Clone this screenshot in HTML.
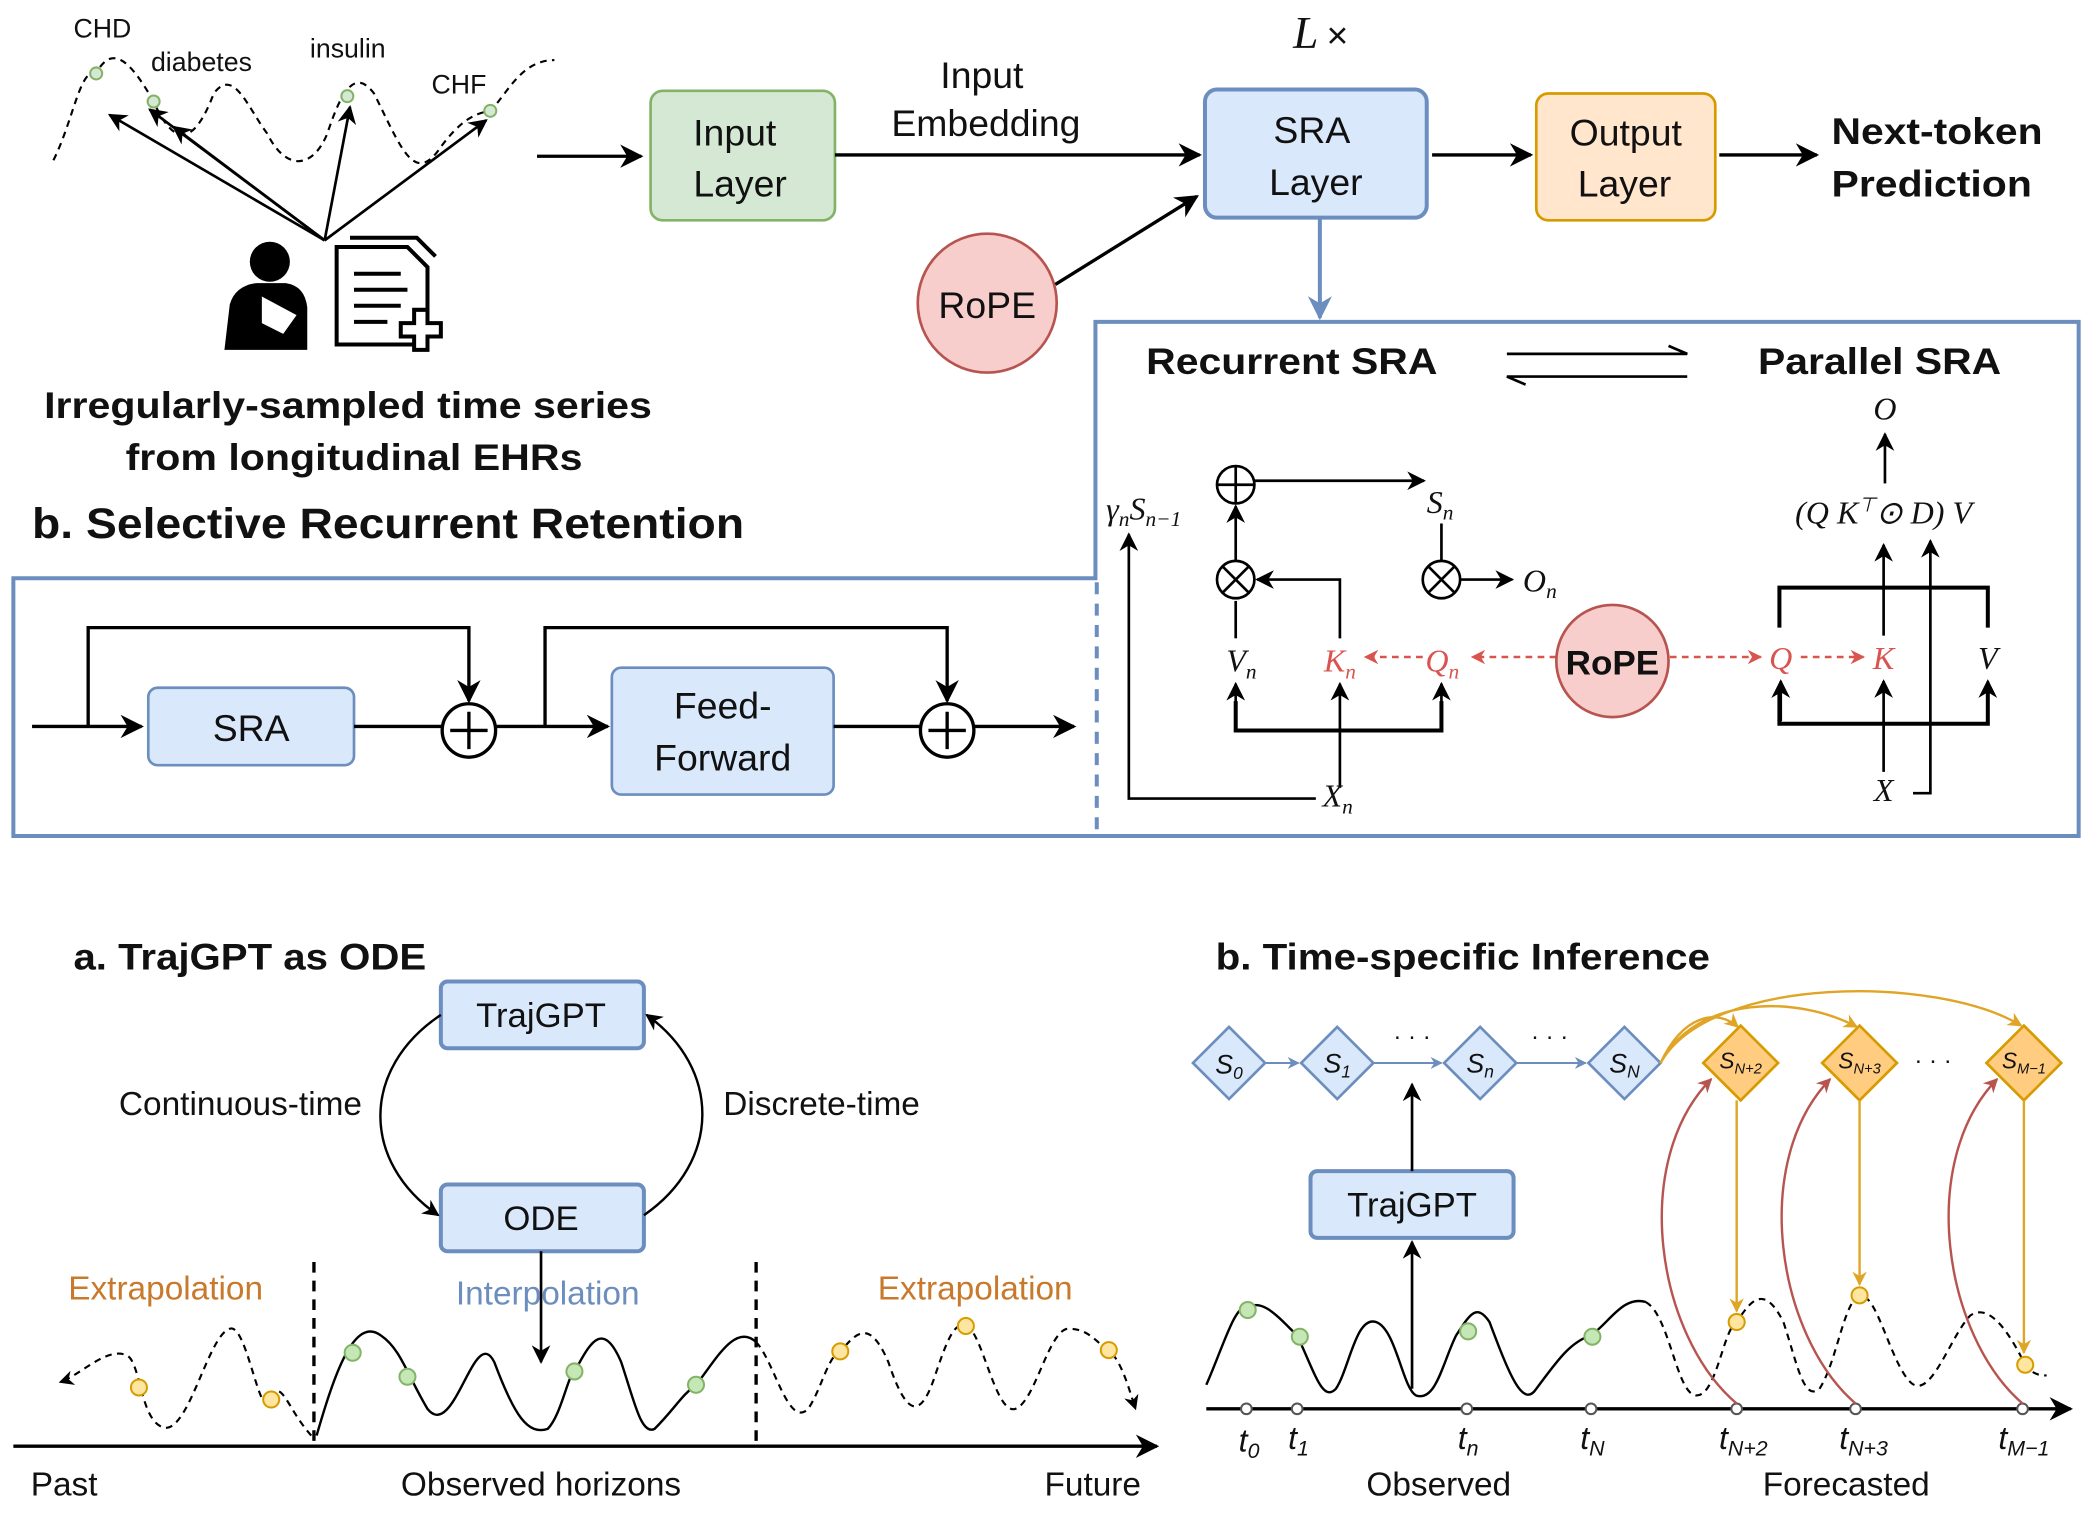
<!DOCTYPE html>
<html><head><meta charset="utf-8"><style>
html,body{margin:0;padding:0;background:#fff;}
svg{display:block;}
text{font-family:"Liberation Sans",sans-serif;fill:#111;}
.b{font-weight:bold;}
.m{font-family:"Liberation Serif",serif;font-style:italic;}
</style></head><body>
<svg width="2084" height="1513" viewBox="0 0 1560 1133" preserveAspectRatio="none" xmlns="http://www.w3.org/2000/svg">
<defs>
<marker id="a" viewBox="0 0 10 10" refX="9" refY="5" markerWidth="7" markerHeight="7" orient="auto-start-reverse"><path d="M0,0L10,5L0,10L3,5z" fill="#000"/></marker>
<marker id="ab" viewBox="0 0 10 10" refX="9" refY="5" markerWidth="6" markerHeight="6" orient="auto"><path d="M0,0L10,5L0,10L3,5z" fill="#6c8ebf"/></marker>
<marker id="ar" viewBox="0 0 10 10" refX="9" refY="5" markerWidth="6" markerHeight="6" orient="auto"><path d="M0,0L10,5L0,10L3,5z" fill="#d9534f"/></marker>
<marker id="ao" viewBox="0 0 10 10" refX="9" refY="5" markerWidth="6" markerHeight="6" orient="auto"><path d="M0,0L10,5L0,10L3,5z" fill="#e0a526"/></marker>
<marker id="am" viewBox="0 0 10 10" refX="9" refY="5" markerWidth="6" markerHeight="6" orient="auto"><path d="M0,0L10,5L0,10L3,5z" fill="#b85450"/></marker>
</defs>

<!-- TOP LEFT time series -->
<path d="M40,120 C55,90 60,50 72,55 C85,30 100,50 115,76 C130,110 145,110 160,70 C175,50 185,80 200,100 C215,130 235,125 245,100 C255,70 265,50 280,70 C300,110 310,140 330,110 C345,90 355,85 367,83 C380,70 390,45 415,45" fill="none" stroke="#000" stroke-width="1.6" stroke-dasharray="5,4"/>
<g stroke="#000" stroke-width="2" fill="none" marker-end="url(#a)">
<line x1="243" y1="180" x2="82" y2="86"/>
<line x1="243" y1="180" x2="112" y2="82"/>
<line x1="243" y1="180" x2="262" y2="80"/>
<line x1="243" y1="180" x2="364" y2="90"/>
<line x1="243" y1="180" x2="130" y2="95"/>
</g>
<g fill="#d5e8d4" stroke="#82b366" stroke-width="1.5">
<circle cx="72" cy="55" r="4.5"/><circle cx="115" cy="76" r="4.5"/><circle cx="260" cy="72" r="4.5"/><circle cx="367" cy="83" r="4.5"/>
</g>
<text x="55" y="28" font-size="20">CHD</text>
<text x="113" y="53" font-size="20">diabetes</text>
<text x="232" y="43" font-size="20">insulin</text>
<text x="323" y="70" font-size="20">CHF</text>
<!-- person -->
<circle cx="202" cy="196" r="15" fill="#000"/>
<path d="M168,262 L172,228 Q176,214 192,212 L214,212 Q228,214 230,230 L230,262 Z" fill="#000"/>
<path d="M196,222 L222,236 L212,250 L196,242 Z" fill="#fff"/>
<!-- document -->
<path d="M252,185 L305,185 L320,200 L320,258 L252,258 Z" fill="#fff" stroke="#000" stroke-width="3"/>
<path d="M262,178 L312,178 L326,192" fill="none" stroke="#000" stroke-width="3"/>
<g stroke="#000" stroke-width="3"><line x1="265" y1="205" x2="300" y2="205"/><line x1="265" y1="217" x2="305" y2="217"/><line x1="265" y1="229" x2="300" y2="229"/><line x1="265" y1="241" x2="290" y2="241"/></g>
<path d="M310,232 h10 v10 h10 v10 h-10 v10 h-10 v-10 h-10 v-10 h10z" fill="#fff" stroke="#000" stroke-width="3"/>
<text x="33" y="313" font-size="28" class="b" textLength="455" lengthAdjust="spacingAndGlyphs">Irregularly-sampled time series</text>
<text x="94" y="352" font-size="28" class="b" textLength="342" lengthAdjust="spacingAndGlyphs">from longitudinal EHRs</text>

<line x1="402" y1="117" x2="480" y2="117" stroke="#000" stroke-width="2.5" marker-end="url(#a)"/>
<rect x="487" y="68" width="138" height="97" rx="9" fill="#d5e8d4" stroke="#82b366" stroke-width="2"/>
<text x="550" y="109" font-size="28" text-anchor="middle">Input</text>
<text x="554" y="147" font-size="28" text-anchor="middle">Layer</text>
<line x1="625" y1="116" x2="898" y2="116" stroke="#000" stroke-width="2.5" marker-end="url(#a)"/>
<text x="735" y="66" font-size="28" text-anchor="middle">Input</text>
<text x="738" y="102" font-size="28" text-anchor="middle">Embedding</text>
<text x="968" y="36" font-size="34" class="m">L</text><text x="993" y="36" font-size="28" font-family="Liberation Serif">×</text>
<rect x="902" y="67" width="166" height="96" rx="9" fill="#dae8fc" stroke="#6c8ebf" stroke-width="3"/>
<text x="982" y="107" font-size="28" text-anchor="middle">SRA</text>
<text x="985" y="146" font-size="28" text-anchor="middle">Layer</text>
<circle cx="739" cy="227" r="52" fill="#f8cecc" stroke="#b85450" stroke-width="2"/>
<text x="739" y="238" font-size="28" text-anchor="middle">RoPE</text>
<line x1="790" y1="213" x2="896" y2="147" stroke="#000" stroke-width="2.5" marker-end="url(#a)"/>
<line x1="1072" y1="116" x2="1146" y2="116" stroke="#000" stroke-width="2.5" marker-end="url(#a)"/>
<rect x="1150" y="70" width="134" height="95" rx="9" fill="#ffe6cc" stroke="#d79b00" stroke-width="2"/>
<text x="1217" y="109" font-size="28" text-anchor="middle">Output</text>
<text x="1216" y="147" font-size="28" text-anchor="middle">Layer</text>
<line x1="1287" y1="116" x2="1360" y2="116" stroke="#000" stroke-width="2.5" marker-end="url(#a)"/>
<text x="1371" y="108" font-size="28" class="b" textLength="158" lengthAdjust="spacingAndGlyphs">Next-token</text>
<text x="1371" y="147" font-size="28" class="b" textLength="150" lengthAdjust="spacingAndGlyphs">Prediction</text>
<line x1="988" y1="163" x2="988" y2="238" stroke="#6c8ebf" stroke-width="3" marker-end="url(#ab)"/>

<!-- panel -->
<path d="M820,433 L820,241 L1556,241 L1556,626 L10,626 L10,433 Z" fill="none" stroke="#6c8ebf" stroke-width="3"/>
<line x1="821" y1="436" x2="821" y2="624" stroke="#6c8ebf" stroke-width="3" stroke-dasharray="9,7"/>
<text x="24" y="403" font-size="32" class="b" textLength="533" lengthAdjust="spacingAndGlyphs">b. Selective Recurrent Retention</text>

<line x1="24" y1="544" x2="106" y2="544" stroke="#000" stroke-width="2.5" marker-end="url(#a)"/>
<rect x="111" y="515" width="154" height="58" rx="7" fill="#dae8fc" stroke="#6c8ebf" stroke-width="2"/>
<text x="188" y="555" font-size="28" text-anchor="middle">SRA</text>
<line x1="265" y1="544" x2="331" y2="544" stroke="#000" stroke-width="2.5"/>
<path d="M66,544 V470 H351 V525" fill="none" stroke="#000" stroke-width="2.5" marker-end="url(#a)"/>
<circle cx="351" cy="547" r="20" fill="#fff" stroke="#000" stroke-width="2.5"/>
<path d="M337,547h28M351,533v28" stroke="#000" stroke-width="2.5"/>
<line x1="371" y1="544" x2="455" y2="544" stroke="#000" stroke-width="2.5" marker-end="url(#a)"/>
<path d="M408,544 V470 H709 V525" fill="none" stroke="#000" stroke-width="2.5" marker-end="url(#a)"/>
<rect x="458" y="500" width="166" height="95" rx="7" fill="#dae8fc" stroke="#6c8ebf" stroke-width="2"/>
<text x="541" y="538" font-size="28" text-anchor="middle">Feed-</text>
<text x="541" y="577" font-size="28" text-anchor="middle">Forward</text>
<line x1="624" y1="544" x2="689" y2="544" stroke="#000" stroke-width="2.5"/>
<circle cx="709" cy="547" r="20" fill="#fff" stroke="#000" stroke-width="2.5"/>
<path d="M695,547h28M709,533v28" stroke="#000" stroke-width="2.5"/>
<line x1="729" y1="544" x2="804" y2="544" stroke="#000" stroke-width="2.5" marker-end="url(#a)"/>

<text x="858" y="280" font-size="28" class="b" textLength="218" lengthAdjust="spacingAndGlyphs">Recurrent SRA</text>
<text x="1316" y="280" font-size="28" class="b" textLength="182" lengthAdjust="spacingAndGlyphs">Parallel SRA</text>
<path d="M1128,265 H1263 l-14,-6" fill="none" stroke="#000" stroke-width="2"/>
<path d="M1263,282 H1128 l14,6" fill="none" stroke="#000" stroke-width="2"/>

<!-- recurrent -->
<text x="828" y="389" font-size="24" class="m">γ<tspan font-size="16" dy="5">n</tspan><tspan dy="-5">S</tspan><tspan font-size="16" dy="5">n−1</tspan></text>
<circle cx="925" cy="363" r="14" fill="#fff" stroke="#000" stroke-width="2"/><path d="M911,363h28M925,349v28" stroke="#000" stroke-width="2"/>
<line x1="939" y1="360" x2="1066" y2="360" stroke="#000" stroke-width="2" marker-end="url(#a)"/>
<text x="1068" y="384" font-size="24" class="m">S<tspan font-size="16" dy="5">n</tspan></text>
<circle cx="925" cy="434" r="14" fill="#fff" stroke="#000" stroke-width="2"/><path d="M915,424l20,20M935,424l-20,20" stroke="#000" stroke-width="2"/>
<circle cx="1079" cy="434" r="14" fill="#fff" stroke="#000" stroke-width="2"/><path d="M1069,424l20,20M1089,424l-20,20" stroke="#000" stroke-width="2"/>
<line x1="925" y1="420" x2="925" y2="379" stroke="#000" stroke-width="2" marker-end="url(#a)"/>
<path d="M1003,478 V434 H941" fill="none" stroke="#000" stroke-width="2" marker-end="url(#a)"/>
<line x1="1079" y1="392" x2="1079" y2="420" stroke="#000" stroke-width="2"/>
<line x1="1093" y1="434" x2="1132" y2="434" stroke="#000" stroke-width="2" marker-end="url(#a)"/>
<text x="1140" y="443" font-size="24" class="m">O<tspan font-size="16" dy="5">n</tspan></text>
<line x1="925" y1="478" x2="925" y2="450" stroke="#000" stroke-width="2"/>
<text x="918" y="503" font-size="24" class="m">V<tspan font-size="16" dy="5">n</tspan></text>
<text x="991" y="503" font-size="24" class="m" style="fill:#d9534f">K<tspan font-size="16" dy="5">n</tspan></text>
<text x="1067" y="503" font-size="24" class="m" style="fill:#d9534f">Q<tspan font-size="16" dy="5">n</tspan></text>
<line x1="1065" y1="492" x2="1022" y2="492" stroke="#d9534f" stroke-width="1.8" stroke-dasharray="5,4" marker-end="url(#ar)"/>
<line x1="1165" y1="492" x2="1102" y2="492" stroke="#d9534f" stroke-width="1.8" stroke-dasharray="5,4" marker-end="url(#ar)"/>
<circle cx="1207" cy="495" r="42" fill="#f8cecc" stroke="#b85450" stroke-width="2"/>
<text x="1172" y="505" font-size="26" class="b" textLength="70" lengthAdjust="spacingAndGlyphs">RoPE</text>
<path d="M925,525 V547 H1079 V525" fill="none" stroke="#000" stroke-width="3"/>
<line x1="925" y1="545" x2="925" y2="512" stroke="#000" stroke-width="2" marker-end="url(#a)"/>
<line x1="1079" y1="545" x2="1079" y2="512" stroke="#000" stroke-width="2" marker-end="url(#a)"/>
<line x1="1003" y1="590" x2="1003" y2="512" stroke="#000" stroke-width="2" marker-end="url(#a)"/>
<text x="990" y="604" font-size="24" class="m">X<tspan font-size="16" dy="5">n</tspan></text>
<path d="M985,598 H845 V400" fill="none" stroke="#000" stroke-width="2" marker-end="url(#a)"/>

<!-- parallel -->
<text x="1411" y="314" font-size="24" class="m" text-anchor="middle">O</text>
<line x1="1411" y1="362" x2="1411" y2="325" stroke="#000" stroke-width="2" marker-end="url(#a)"/>
<text x="1410" y="392" font-size="24" class="m" text-anchor="middle">(Q K<tspan font-size="15" dy="-9">⊤</tspan><tspan dy="9">⊙ D) V</tspan></text>
<path d="M1332,470 V440 H1488 V470 M1332,518 V542 H1488 V518" fill="none" stroke="#000" stroke-width="3"/>
<text x="1333" y="501" font-size="24" class="m" text-anchor="middle" style="fill:#d9534f">Q</text>
<text x="1410" y="501" font-size="24" class="m" text-anchor="middle" style="fill:#d9534f">K</text>
<text x="1488" y="501" font-size="24" class="m" text-anchor="middle">V</text>
<line x1="1250" y1="492" x2="1318" y2="492" stroke="#d9534f" stroke-width="1.8" stroke-dasharray="5,4" marker-end="url(#ar)"/>
<line x1="1348" y1="492" x2="1395" y2="492" stroke="#d9534f" stroke-width="1.8" stroke-dasharray="5,4" marker-end="url(#ar)"/>
<line x1="1333" y1="540" x2="1333" y2="510" stroke="#000" stroke-width="2" marker-end="url(#a)"/>
<line x1="1488" y1="540" x2="1488" y2="510" stroke="#000" stroke-width="2" marker-end="url(#a)"/>
<line x1="1410" y1="578" x2="1410" y2="510" stroke="#000" stroke-width="2" marker-end="url(#a)"/>
<line x1="1410" y1="476" x2="1410" y2="408" stroke="#000" stroke-width="2" marker-end="url(#a)"/>
<path d="M1432,594 H1445 V405" fill="none" stroke="#000" stroke-width="2" marker-end="url(#a)"/>
<text x="1410" y="600" font-size="24" class="m" text-anchor="middle">X</text>

<!-- BOTTOM a -->
<text x="55" y="726" font-size="28" class="b" textLength="264" lengthAdjust="spacingAndGlyphs">a. TrajGPT as ODE</text>
<rect x="330" y="735" width="152" height="50" rx="5" fill="#dae8fc" stroke="#6c8ebf" stroke-width="3"/>
<text x="405" y="769" font-size="26" text-anchor="middle">TrajGPT</text>
<rect x="330" y="887" width="152" height="50" rx="5" fill="#dae8fc" stroke="#6c8ebf" stroke-width="3"/>
<text x="405" y="921" font-size="26" text-anchor="middle">ODE</text>
<path d="M330,760 C270,800 270,870 328,910" fill="none" stroke="#000" stroke-width="1.8" marker-end="url(#a)"/>
<path d="M482,910 C540,870 540,800 484,760" fill="none" stroke="#000" stroke-width="1.8" marker-end="url(#a)"/>
<text x="180" y="835" font-size="25" text-anchor="middle">Continuous-time</text>
<text x="615" y="835" font-size="25" text-anchor="middle">Discrete-time</text>
<line x1="405" y1="937" x2="405" y2="1020" stroke="#000" stroke-width="2" marker-end="url(#a)"/>
<text x="124" y="973" font-size="25" text-anchor="middle" style="fill:#c8792b">Extrapolation</text>
<text x="410" y="977" font-size="25" text-anchor="middle" style="fill:#6c8ebf">Interpolation</text>
<text x="730" y="973" font-size="25" text-anchor="middle" style="fill:#c8792b">Extrapolation</text>
<line x1="235" y1="945" x2="235" y2="1080" stroke="#000" stroke-width="2.5" stroke-dasharray="8,6"/>
<line x1="566" y1="945" x2="566" y2="1080" stroke="#000" stroke-width="2.5" stroke-dasharray="8,6"/>
<line x1="10" y1="1083" x2="866" y2="1083" stroke="#000" stroke-width="2.5" marker-end="url(#a)"/>
<text x="48" y="1120" font-size="25" text-anchor="middle">Past</text>
<text x="405" y="1120" font-size="25" text-anchor="middle">Observed horizons</text>
<text x="818" y="1120" font-size="25" text-anchor="middle">Future</text>
<path d="M233,1075 C215,1055 210,1030 203,1048 C195,1070 185,990 172,995 C155,1000 140,1080 120,1068 C105,1060 105,1020 95,1015 C80,1008 60,1030 45,1035" fill="none" stroke="#000" stroke-width="1.6" stroke-dasharray="5,4" marker-end="url(#a)"/>
<path d="M237,1075 C250,1030 265,985 285,1000 C300,1010 305,1030 320,1055 C340,1080 355,990 370,1020 C385,1060 395,1075 410,1070 C420,1060 425,1030 430,1027 C440,1010 450,985 465,1020 C475,1050 480,1075 490,1070 C505,1055 510,1045 521,1037 C535,1020 550,990 566,1005" fill="none" stroke="#000" stroke-width="1.8"/>
<path d="M566,1005 C580,1020 590,1070 605,1055 C615,1040 620,1015 629,1012 C640,1000 650,985 665,1020 C680,1065 690,1060 700,1030 C710,1000 715,990 723,993 C735,995 745,1060 760,1055 C775,1050 785,995 800,995 C815,995 820,1005 830,1011 C840,1020 845,1040 850,1055" fill="none" stroke="#000" stroke-width="1.6" stroke-dasharray="5,4" marker-end="url(#a)"/>
<g fill="#ffe6a0" stroke="#d79b00" stroke-width="1.5">
<circle cx="104" cy="1039" r="6"/><circle cx="203" cy="1048" r="6"/><circle cx="629" cy="1012" r="6"/><circle cx="723" cy="993" r="6"/><circle cx="830" cy="1011" r="6"/>
</g>
<g fill="#c5e6b5" stroke="#82b366" stroke-width="1.5">
<circle cx="264" cy="1013" r="6"/><circle cx="305" cy="1031" r="6"/><circle cx="430" cy="1027" r="6"/><circle cx="521" cy="1037" r="6"/>
</g>

<!-- BOTTOM b -->
<text x="910" y="726" font-size="28" class="b" textLength="370" lengthAdjust="spacingAndGlyphs">b. Time-specific Inference</text>
<g stroke="#6c8ebf" stroke-width="1.5">
<line x1="947" y1="796" x2="972" y2="796" marker-end="url(#ab)"/>
<line x1="1028" y1="796" x2="1079" y2="796" marker-end="url(#ab)"/>
<line x1="1135" y1="796" x2="1187" y2="796" marker-end="url(#ab)"/>
</g>
<g fill="#dae8fc" stroke="#6c8ebf" stroke-width="2">
<path d="M920,769l27,27l-27,27l-27,-27z"/><path d="M1001,769l27,27l-27,27l-27,-27z"/><path d="M1108,769l27,27l-27,27l-27,-27z"/><path d="M1216,769l27,27l-27,27l-27,-27z"/>
</g>
<g fill="#ffcc80" stroke="#d79b00" stroke-width="2">
<path d="M1303,768l28,28l-28,28l-28,-28z"/><path d="M1392,768l28,28l-28,28l-28,-28z"/><path d="M1515,768l28,28l-28,28l-28,-28z"/>
</g>
<g font-size="20" class="m" text-anchor="middle">
<text x="920" y="804">S<tspan font-size="13" dy="4">0</tspan></text>
<text x="1001" y="803">S<tspan font-size="13" dy="4">1</tspan></text>
<text x="1108" y="803">S<tspan font-size="13" dy="4">n</tspan></text>
<text x="1216" y="803">S<tspan font-size="13" dy="4">N</tspan></text>
<text x="1303" y="800" font-size="17">S<tspan font-size="11" dy="4">N+2</tspan></text>
<text x="1392" y="800" font-size="17">S<tspan font-size="11" dy="4">N+3</tspan></text>
<text x="1515" y="800" font-size="17">S<tspan font-size="11" dy="4">M−1</tspan></text>
</g>
<text x="1057" y="782" font-size="18" text-anchor="middle">· · ·</text>
<text x="1160" y="782" font-size="18" text-anchor="middle">· · ·</text>
<text x="1447" y="800" font-size="18" text-anchor="middle">· · ·</text>
<g fill="none" stroke="#e0a526" stroke-width="1.8">
<path d="M1243,796 C1260,760 1285,755 1301,769" marker-end="url(#ao)"/>
<path d="M1243,796 C1270,745 1345,745 1390,769" marker-end="url(#ao)"/>
<path d="M1243,796 C1280,730 1450,730 1513,768" marker-end="url(#ao)"/>
<line x1="1300" y1="824" x2="1300" y2="982" marker-end="url(#ao)"/>
<line x1="1392" y1="824" x2="1392" y2="962" marker-end="url(#ao)"/>
<line x1="1515" y1="824" x2="1515" y2="1013" marker-end="url(#ao)"/>
</g>
<rect x="981" y="877" width="152" height="50" rx="5" fill="#dae8fc" stroke="#6c8ebf" stroke-width="3"/>
<text x="1057" y="911" font-size="26" text-anchor="middle">TrajGPT</text>
<line x1="1057" y1="877" x2="1057" y2="812" stroke="#000" stroke-width="2" marker-end="url(#a)"/>
<line x1="1057" y1="1040" x2="1057" y2="930" stroke="#000" stroke-width="2" marker-end="url(#a)"/>
<path d="M903,1037 C915,1010 925,975 933,980 C945,970 960,990 971,1000 C985,1030 990,1050 1000,1040 C1010,1025 1015,985 1030,990 C1045,995 1050,1040 1060,1045 C1075,1050 1080,1020 1090,1000 C1100,985 1105,975 1115,990 C1130,1030 1140,1055 1150,1040 C1165,1020 1175,1005 1191,1000 C1205,990 1215,970 1232,975" fill="none" stroke="#000" stroke-width="1.8"/>
<path d="M1232,975 C1250,985 1255,1045 1270,1045 C1285,1045 1290,995 1300,990 C1310,975 1320,960 1335,990 C1345,1020 1350,1050 1362,1040 C1375,1020 1380,975 1392,970 C1405,968 1415,1020 1430,1035 C1445,1050 1460,1000 1475,985 C1490,975 1505,1000 1516,1022 C1522,1030 1528,1030 1532,1030" fill="none" stroke="#000" stroke-width="1.6" stroke-dasharray="5,4"/>
<g fill="#c5e6b5" stroke="#82b366" stroke-width="1.5">
<circle cx="934" cy="981" r="6"/><circle cx="973" cy="1001" r="6"/><circle cx="1099" cy="997" r="6"/><circle cx="1192" cy="1001" r="6"/>
</g>
<g fill="#ffe6a0" stroke="#d79b00" stroke-width="1.5">
<circle cx="1300" cy="990" r="6"/><circle cx="1392" cy="970" r="6"/><circle cx="1516" cy="1022" r="6"/>
</g>
<line x1="903" y1="1055" x2="1550" y2="1055" stroke="#000" stroke-width="2.5" marker-end="url(#a)"/>
<g fill="#fff" stroke="#555" stroke-width="1.5">
<circle cx="933" cy="1055" r="4"/><circle cx="971" cy="1055" r="4"/><circle cx="1098" cy="1055" r="4"/><circle cx="1191" cy="1055" r="4"/><circle cx="1300" cy="1055" r="4"/><circle cx="1389" cy="1055" r="4"/><circle cx="1514" cy="1055" r="4"/>
</g>
<g fill="none" stroke="#b85450" stroke-width="1.8">
<path d="M1300,1051 C1240,1000 1220,870 1281,808" marker-end="url(#am)"/>
<path d="M1389,1051 C1330,1000 1310,870 1370,808" marker-end="url(#am)"/>
<path d="M1514,1051 C1455,1000 1435,870 1495,808" marker-end="url(#am)"/>
</g>
<g font-size="24" class="m" text-anchor="middle">
<text x="935" y="1087">t<tspan font-size="16" dy="5">0</tspan></text>
<text x="972" y="1085">t<tspan font-size="16" dy="5">1</tspan></text>
<text x="1099" y="1085">t<tspan font-size="16" dy="5">n</tspan></text>
<text x="1192" y="1085">t<tspan font-size="16" dy="5">N</tspan></text>
<text x="1305" y="1085">t<tspan font-size="16" dy="5">N+2</tspan></text>
<text x="1395" y="1085">t<tspan font-size="16" dy="5">N+3</tspan></text>
<text x="1515" y="1085">t<tspan font-size="16" dy="5">M−1</tspan></text>
</g>
<text x="1077" y="1120" font-size="25" text-anchor="middle">Observed</text>
<text x="1382" y="1120" font-size="25" text-anchor="middle">Forecasted</text>
</svg>
</body></html>
